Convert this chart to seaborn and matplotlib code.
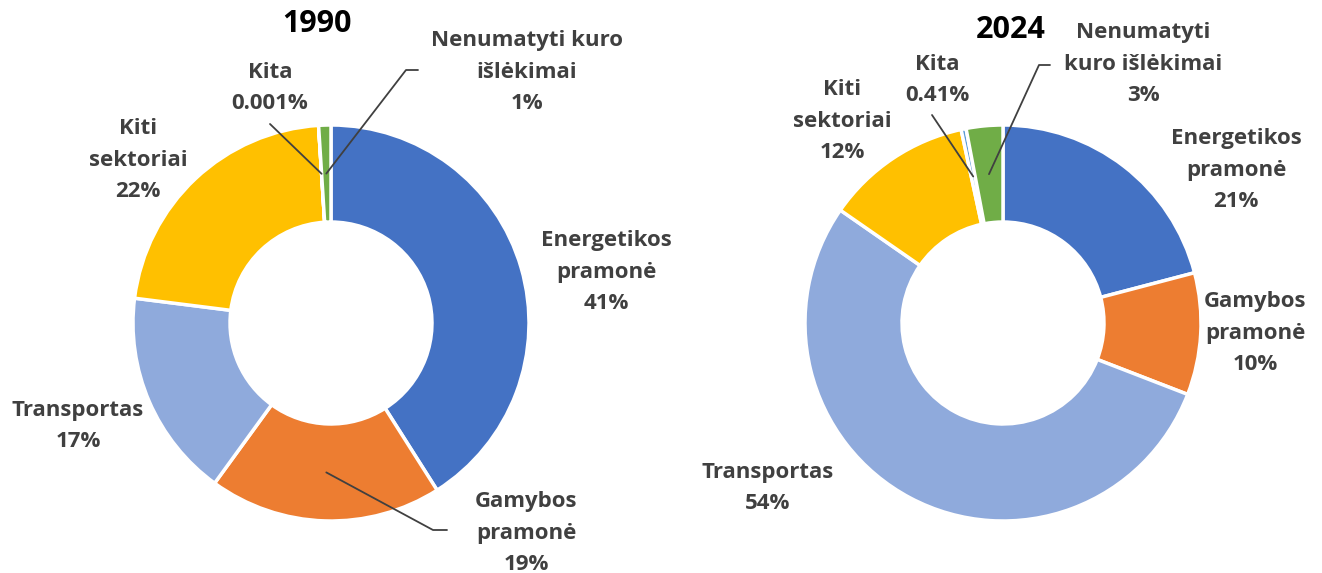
import numpy as np
import matplotlib
matplotlib.use("Agg")
import matplotlib.pyplot as plt
import seaborn as sns

# data
sectors = ["Energetikos\npramonė", "Gamybos\npramonė", "Transportas", "Kiti\nsektoriai", "Kita", "Nenumatyti kuro\nišlėkimai"]
share_1990 = [41, 19, 17, 22, 0.001, 1]
share_2024 = [21, 10, 54, 12, 0.41, 3]
pct_1990 = ["41%", "19%", "17%", "22%", "0.001%", "1%"]
pct_2024 = ["21%", "10%", "54%", "12%", "0.41%", "3%"]
names_2024 = ["Energetikos\npramonė", "Gamybos\npramonė", "Transportas", "Kiti\nsektoriai", "Kita", "Nenumatyti\nkuro išlėkimai"]

sns.set_theme(style="white")
plt.rcParams["font.family"] = ["Open Sans", "DejaVu Sans"]
colors = sns.color_palette(["#4472C4", "#ED7D31", "#8FAADC", "#FFC000", "#5B9BD5", "#70AD47"])

W, H = 1322, 573
R = 198.0  # outer radius in px
fig = plt.figure(figsize=(W / 100, H / 100), dpi=100)


def make_ax(cx, cy, vals):
    ax = fig.add_axes([(cx - 300) / W, 0, 600 / W, 1])
    ax.pie(vals, colors=colors, startangle=90, counterclock=False, radius=1,
           wedgeprops=dict(width=0.49, edgecolor="white", linewidth=2.5))
    ax.set_xlim(-300 / R, 300 / R)
    ax.set_ylim(-(H - cy) / R, cy / R)
    ax.set_aspect("equal")
    ax.axis("off")
    return ax


def px(cx, cy, x, y):
    return ((x - cx) / R, (cy - y) / R)


def anchor(vals, i, r=0.755):
    total = sum(vals)
    start = sum(vals[:i]) / total * 360
    mid = start + vals[i] / total * 180
    a = np.deg2rad(90 - mid)
    return r * np.cos(a), r * np.sin(a)


label_kw = dict(ha="center", va="center", fontsize=16, fontweight="bold",
                color="#404040", linespacing=1.68)
lk = dict(color="#404040", linewidth=1.3)

# ---- 1990
cx1, cy1 = 331, 323
ax1 = make_ax(cx1, cy1, share_1990)
ax1.text(*px(cx1, cy1, 317, 24), "1990", ha="center", va="center",
         fontsize=22, fontweight="bold", color="black")
pos1 = [(606, 272), (526, 533), (78, 426), (138, 160), (270, 88), (527, 72)]
for i, (x, y) in enumerate(pos1):
    ax1.text(*px(cx1, cy1, x, y), sectors[i] + "\n" + pct_1990[i], **label_kw)

ax, ay = anchor(share_1990, 4)
p = px(cx1, cy1, 270, 124)
ax1.plot([ax, p[0]], [ay, p[1]], **lk)
ax, ay = anchor(share_1990, 5)
p, q = px(cx1, cy1, 406, 70), px(cx1, cy1, 418, 70)
ax1.plot([ax, p[0], q[0]], [ay, p[1], q[1]], **lk)
ax, ay = anchor(share_1990, 1)
p, q = px(cx1, cy1, 433, 530), px(cx1, cy1, 447, 530)
ax1.plot([ax, p[0], q[0]], [ay, p[1], q[1]], **lk)

# ---- 2024
cx2, cy2 = 1003, 323
ax2 = make_ax(cx2, cy2, share_2024)
ax2.text(*px(cx2, cy2, 1011, 30), "2024", ha="center", va="center",
         fontsize=22, fontweight="bold", color="black")
pos2 = [(1236, 170), (1255, 333), (768, 488), (842, 121), (937, 80), (1143, 64)]
for i, (x, y) in enumerate(pos2):
    ax2.text(*px(cx2, cy2, x, y), names_2024[i] + "\n" + pct_2024[i], **label_kw)

ax, ay = anchor(share_2024, 4)
p = px(cx2, cy2, 932, 115)
ax2.plot([ax, p[0]], [ay, p[1]], **lk)
ax, ay = anchor(share_2024, 5)
p, q = px(cx2, cy2, 1039, 65), px(cx2, cy2, 1050, 65)
ax2.plot([ax, p[0], q[0]], [ay, p[1], q[1]], **lk)

fig.savefig("out.png", dpi=100)
